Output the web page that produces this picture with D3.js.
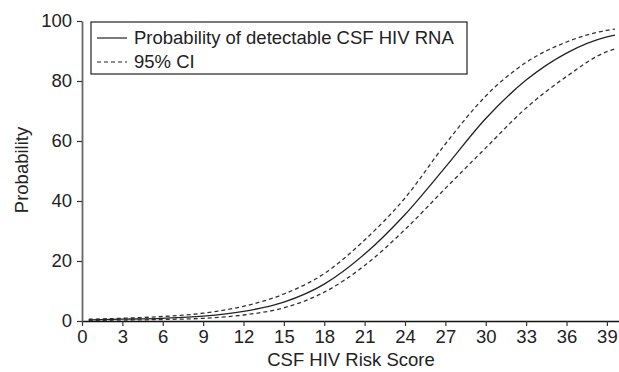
<!DOCTYPE html>
<html>
<head>
<meta charset="utf-8">
<script src="https://cdn.jsdelivr.net/npm/d3@7"></script>
<style>
  body { margin: 0; background: #fff; }
  text { font-family: "Liberation Sans", Arial, sans-serif; fill: #222; }
</style>
</head>
<body>
<div id="chart"></div>
<script>
// values
const scores = [0.5, 3, 6, 9, 12, 15, 18, 21, 24, 27, 30, 33, 36, 39, 39.6];
const probability = [0.4, 0.6, 0.9, 1.6, 3.2, 6.3, 12.3, 22.3, 35.5, 51.3, 67.5, 80.3, 89.3, 94.7, 95.3];
const upperCI = [0.6, 0.9, 1.5, 2.6, 4.9, 9, 15.8, 27, 41, 59, 75, 86.2, 93, 96.9, 97.3];
const lowerCI = [0.2, 0.3, 0.5, 0.9, 2, 4.4, 9.6, 18.5, 30.5, 44.2, 57.7, 71, 81.5, 89.8, 90.7];
const xTicks = [0, 3, 6, 9, 12, 15, 18, 21, 24, 27, 30, 33, 36, 39];
const yTicks = [0, 20, 40, 60, 80, 100];
const legendLabels = ["Probability of detectable CSF HIV RNA", "95% CI"];

const width = 619, height = 372;
const margin = { top: 21, right: 0, bottom: 51, left: 82 };
const fontSize = "18.5px";

const svg = d3.select("#chart").append("svg")
    .attr("width", width)
    .attr("height", height);

const x = d3.scaleLinear().domain([0, 39.9]).range([margin.left, width - margin.right]);
const y = d3.scaleLinear().domain([0, 100]).range([height - margin.bottom, margin.top]);

const xAxis = d3.axisBottom(x).tickValues(xTicks).tickSize(5).tickSizeOuter(0).tickPadding(4);
const yAxis = d3.axisLeft(y).tickValues(yTicks).tickSize(5).tickSizeOuter(0).tickPadding(5);

const gx = svg.append("g")
    .attr("class", "x axis")
    .attr("transform", "translate(0," + y(0) + ")")
    .call(xAxis);

const gy = svg.append("g")
    .attr("class", "y axis")
    .attr("transform", "translate(" + x(0) + ",0)")
    .call(yAxis);

gx.select(".domain").attr("stroke", "#111").attr("stroke-width", 1.6);
gy.select(".domain").attr("stroke", "#666").attr("stroke-width", 1.8);
svg.selectAll(".axis .tick line").attr("stroke", "#333").attr("stroke-width", 1.2);
svg.selectAll(".axis text")
    .style("font-size", fontSize)
    .style("font-family", "'Liberation Sans', Arial, sans-serif")
    .attr("fill", "#222");

// axis titles
svg.append("text")
    .attr("x", 351)
    .attr("y", 366)
    .attr("text-anchor", "middle")
    .style("font-size", fontSize)
    .text("CSF HIV Risk Score");

svg.append("text")
    .attr("transform", "translate(28," + 170 + ") rotate(-90)")
    .attr("text-anchor", "middle")
    .style("font-size", fontSize)
    .text("Probability");

const line = d3.line()
    .x((d, i) => x(scores[i]))
    .y(d => y(d))
    .curve(d3.curveMonotoneX);

svg.append("path")
    .datum(upperCI)
    .attr("fill", "none")
    .attr("stroke", "#333")
    .attr("stroke-width", 1.3)
    .attr("stroke-dasharray", "4,3")
    .attr("d", line);

svg.append("path")
    .datum(lowerCI)
    .attr("fill", "none")
    .attr("stroke", "#333")
    .attr("stroke-width", 1.3)
    .attr("stroke-dasharray", "4,3")
    .attr("d", line);

svg.append("path")
    .datum(probability)
    .attr("fill", "none")
    .attr("stroke", "#222")
    .attr("stroke-width", 1.3)
    .attr("d", line);

// legend
const legend = svg.append("g").attr("transform", "translate(91,22)");
legend.append("rect")
    .attr("width", 376)
    .attr("height", 52)
    .attr("fill", "#fff")
    .attr("stroke", "#222")
    .attr("stroke-width", 1.2);

legendLabels.forEach(function(label, i) {
    const ly = 16 + i * 24;
    legend.append("line")
        .attr("x1", 6).attr("x2", 36)
        .attr("y1", ly).attr("y2", ly)
        .attr("stroke", "#222")
        .attr("stroke-width", 1.2)
        .attr("stroke-dasharray", i === 0 ? null : "4,3");
    legend.append("text")
        .attr("x", 43)
        .attr("y", ly + 6)
        .style("font-size", fontSize)
        .text(label);
});
</script>
</body>
</html>
